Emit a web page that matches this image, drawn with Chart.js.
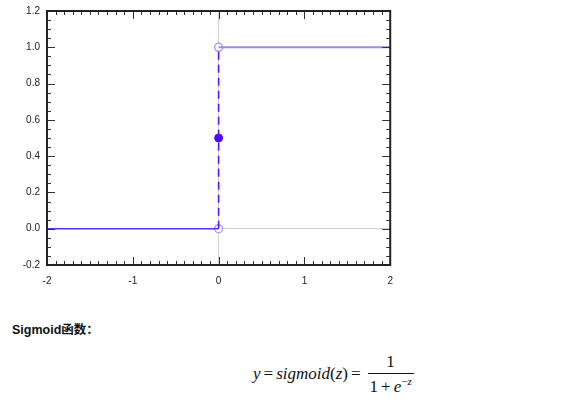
<!DOCTYPE html>
<html lang="zh">
<head>
    <meta charset="UTF-8">
    <title>Step function vs Sigmoid</title>
    <script src="https://cdn.jsdelivr.net/npm/chart.js"></script>
    <style>
        body {
            margin: 0;
            padding: 0;
            background: #fff;
            width: 586px;
            height: 400px;
            position: relative;
            overflow: hidden;
            font-family: "Liberation Sans", Arial, "Noto Sans CJK SC", sans-serif;
        }

        .chart-box {
            position: absolute;
            left: 0;
            top: -2px;
            width: 403px;
            height: 292px;
        }

        .caption {
            position: absolute;
            left: 12px;
            top: 319px;
            font-size: 12.5px;
            font-weight: bold;
            color: #111;
        }

        .formula {
            position: absolute;
            left: 253px;
            top: 352px;
            font-family: "Liberation Serif", "DejaVu Serif", serif;
            font-size: 17px;
            color: #111;
            display: flex;
            align-items: center;
            white-space: nowrap;
        }

        .formula i { font-style: italic; }

        .op { margin: 0 3px; }

        .frac {
            display: inline-flex;
            flex-direction: column;
            align-items: center;
            margin-left: 6px;
        }

        .frac .num {
            padding: 0 2px 1px 2px;
            border-bottom: 1px solid #111;
            width: 100%;
            text-align: center;
        }

        .frac .den {
            padding-top: 1px;
        }

        sup { font-size: 11px; }
    </style>
</head>

<body>
    <div class="chart-box">
        <canvas id="stepChart"></canvas>
    </div>

    <div class="caption">Sigmoid函数：</div>

    <div class="formula">
        <span><i>y</i><span class="op">=</span><i>sigmoid</i>(<i>z</i>)<span class="op">=</span></span>
        <span class="frac">
            <span class="num">1</span>
            <span class="den">1<span class="op">+</span><i>e</i><sup>−<i>z</i></sup></span>
        </span>
    </div>

    <script>
        // unit step: 0 for z<0, 1 for z>0, 0.5 at z=0
        const leftX = [-2, 0];
        const leftY = [0, 0];
        const rightX = [0, 2];
        const rightY = [1, 1];
        const jumpX = [0, 0];
        const jumpY = [0, 1];
        const midX = [0];
        const midY = [0.5];
        const openX = [0, 0];
        const openY = [0, 1];

        const xTicks = [-2, -1, 0, 1, 2];
        const yTicks = [-0.2, 0.0, 0.2, 0.4, 0.6, 0.8, 1.0, 1.2];

        const toPoints = (xs, ys) => xs.map((x, i) => ({ x: x, y: ys[i] }));

        // inward tick marks on all four sides of the frame
        const frameTicks = {
            id: 'frameTicks',
            afterDraw(chart) {
                const ctx = chart.ctx;
                const a = chart.chartArea;
                const sx = chart.scales.x;
                const sy = chart.scales.y;
                ctx.save();
                ctx.strokeStyle = '#333';
                ctx.lineWidth = 1;
                ctx.beginPath();
                for (let i = 0; i <= 40; i++) {
                    const v = -2 + i * 0.1;
                    const px = Math.round(sx.getPixelForValue(v)) + 0.5;
                    const len = (i % 10 === 0) ? 8 : 4;
                    ctx.moveTo(px, a.bottom);
                    ctx.lineTo(px, a.bottom - len);
                    ctx.moveTo(px, a.top);
                    ctx.lineTo(px, a.top + len);
                }
                for (let i = 0; i <= 28; i++) {
                    const v = -0.2 + i * 0.05;
                    const py = Math.round(sy.getPixelForValue(v)) + 0.5;
                    const len = (i % 4 === 0) ? 8 : 4;
                    ctx.moveTo(a.left, py);
                    ctx.lineTo(a.left + len, py);
                    ctx.moveTo(a.right, py);
                    ctx.lineTo(a.right - len, py);
                }
                ctx.stroke();
                ctx.strokeStyle = '#222';
                ctx.lineWidth = 2;
                ctx.strokeRect(a.left, a.top, a.right - a.left, a.bottom - a.top);
                ctx.restore();
            }
        };

        const zeroGrid = (c) => (Math.abs(c.tick.value) < 1e-9 ? '#d0d0d0' : 'rgba(0,0,0,0)');

        new Chart(document.getElementById('stepChart'), {
            type: 'scatter',
            data: {
                datasets: [
                    {
                        data: toPoints(leftX, leftY),
                        showLine: true,
                        borderColor: '#5b2ef2',
                        borderWidth: 1.6,
                        pointRadius: 0
                    },
                    {
                        data: toPoints(rightX, rightY),
                        showLine: true,
                        borderColor: '#9a8af0',
                        borderWidth: 2,
                        pointRadius: 0
                    },
                    {
                        data: toPoints(jumpX, jumpY),
                        showLine: true,
                        borderColor: '#5514ff',
                        borderWidth: 1.6,
                        borderDash: [8, 5],
                        pointRadius: 0
                    },
                    {
                        data: toPoints(midX, midY),
                        pointRadius: 4,
                        pointBackgroundColor: '#4a0cff',
                        pointBorderColor: '#4a0cff',
                        pointBorderWidth: 1
                    },
                    {
                        data: toPoints(openX, openY),
                        pointRadius: 4,
                        pointBackgroundColor: '#ffffff',
                        pointBorderColor: '#ac9ff4',
                        pointBorderWidth: 1.5
                    }
                ]
            },
            options: {
                responsive: true,
                maintainAspectRatio: false,
                animation: false,
                layout: { padding: { top: 10, right: 10, left: 0, bottom: 0 } },
                plugins: {
                    legend: { display: false },
                    tooltip: { enabled: false }
                },
                scales: {
                    x: {
                        type: 'linear',
                        min: -2,
                        max: 2,
                        afterBuildTicks: (s) => { s.ticks = xTicks.map(v => ({ value: v })); },
                        afterFit: (s) => { s.height = 25; },
                        border: { display: false },
                        grid: { color: zeroGrid, drawTicks: false, lineWidth: 1 },
                        ticks: {
                            padding: 10,
                            color: '#222',
                            font: { family: 'Liberation Sans', size: 10 },
                            maxRotation: 0,
                            callback: (v) => String(v)
                        }
                    },
                    y: {
                        type: 'linear',
                        min: -0.2,
                        max: 1.2,
                        afterBuildTicks: (s) => { s.ticks = yTicks.map(v => ({ value: v })); },
                        afterFit: (s) => { s.width = 47; },
                        border: { display: false },
                        grid: { color: zeroGrid, drawTicks: false, lineWidth: 1 },
                        ticks: {
                            padding: 7,
                            color: '#222',
                            font: { family: 'Liberation Sans', size: 10 },
                            callback: (v) => Number(v).toFixed(1)
                        }
                    }
                }
            },
            plugins: [frameTicks]
        });
    </script>
</body>
</html>
